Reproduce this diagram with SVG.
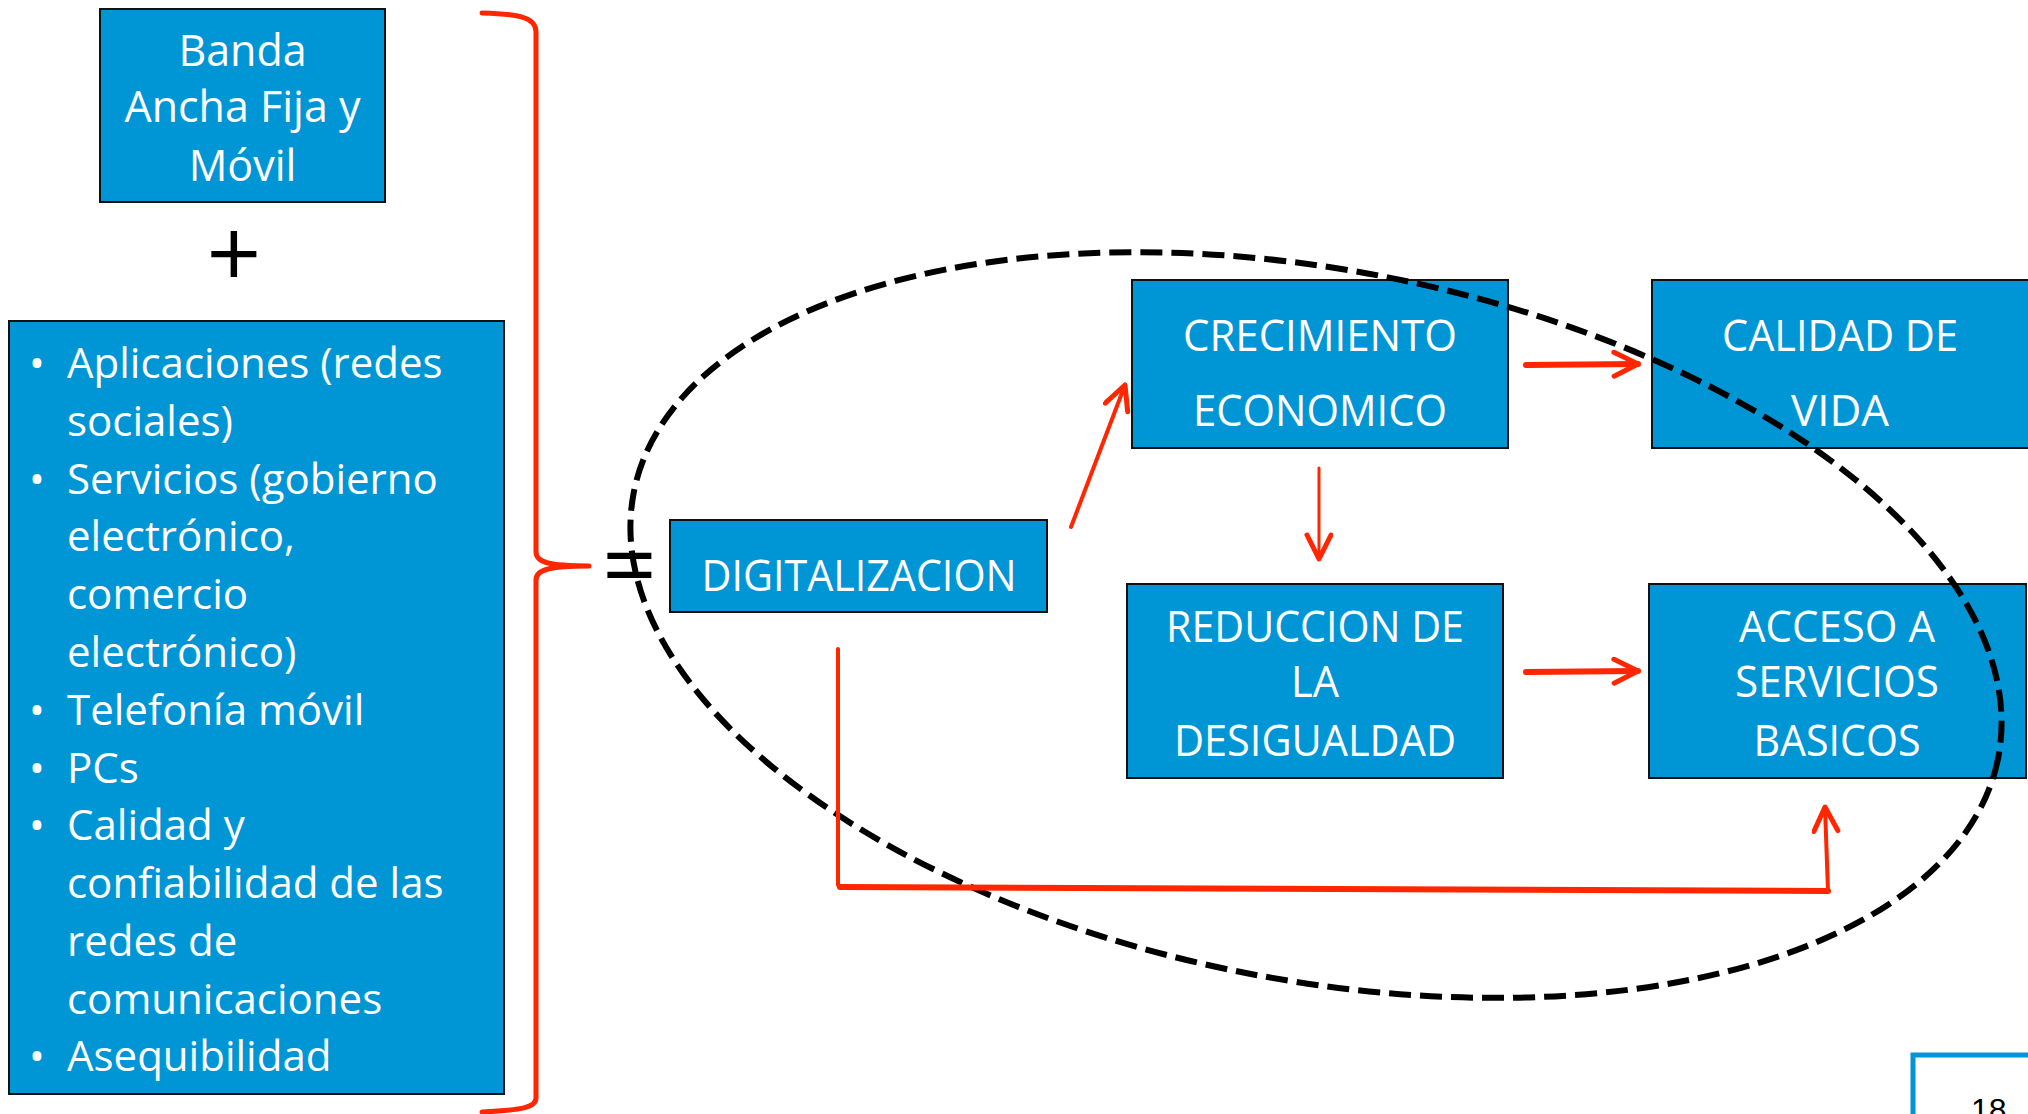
<svg xmlns="http://www.w3.org/2000/svg" width="2028" height="1114" viewBox="0 0 2028 1114">
  <style>
    .box { fill: #0096D6; stroke: #111; stroke-width: 2; }
    .lbl { font-family: "Open Sans", "Noto Sans", sans-serif; font-size: 43px; fill: #fff; }
    .lst { font-size: 42px; }
    .mid { text-anchor: middle; }
    .sym { font-family: "Open Sans", "Noto Sans", sans-serif; fill: #000; }
    .red { fill: none; stroke: #FF2600; stroke-linecap: round; stroke-linejoin: round; }
  </style>
  <defs>
    <marker id="ah" markerUnits="userSpaceOnUse" markerWidth="40" markerHeight="40" refX="27" refY="14" orient="auto">
      <path d="M3,2 L27,14 L3,26" fill="none" stroke="#FF2600" stroke-width="5" stroke-linecap="round" stroke-linejoin="round"/>
    </marker>
  </defs>
  <rect width="2028" height="1114" fill="#fff"/>

  <!-- left column: broadband + services -->
  <g id="banda">
    <rect class="box" x="100" y="9" width="285" height="193"/>
    <text class="lbl mid" x="242.5" y="66">Banda</text>
    <text class="lbl mid" x="242.5" y="122">Ancha Fija y</text>
    <text class="lbl mid" x="242.5" y="181">Móvil</text>
  </g>
  <text class="sym" x="234" y="288" font-size="96" text-anchor="middle">+</text>
  <g id="servicios">
    <rect class="box" x="9" y="321" width="495" height="773"/>
    <g class="lbl lst">
      <text x="37" y="378" text-anchor="middle">•</text>
      <text x="67" y="378">Aplicaciones (redes</text>
      <text x="67" y="436">sociales)</text>
      <text x="37" y="494" text-anchor="middle">•</text>
      <text x="67" y="494">Servicios (gobierno</text>
      <text x="67" y="551">electrónico,</text>
      <text x="67" y="609">comercio</text>
      <text x="67" y="667">electrónico)</text>
      <text x="37" y="725" text-anchor="middle">•</text>
      <text x="67" y="725">Telefonía móvil</text>
      <text x="37" y="783" text-anchor="middle">•</text>
      <text x="67" y="783">PCs</text>
      <text x="37" y="840" text-anchor="middle">•</text>
      <text x="67" y="840">Calidad y</text>
      <text x="67" y="898">confiabilidad de las</text>
      <text x="67" y="956">redes de</text>
      <text x="67" y="1014">comunicaciones</text>
      <text x="37" y="1071" text-anchor="middle">•</text>
      <text x="67" y="1071">Asequibilidad</text>
    </g>
  </g>

  <!-- curly brace and equals sign -->
  <path class="red" stroke-width="5" d="M482,13 C524,14 536,19 536,32 L536,552 C536,562 548,566 589,566 C548,566 536,570 536,580 L536,1098 C536,1107 524,1110 482,1112"/>

  <!-- result nodes -->
  <g id="digitalizacion">
    <rect class="box" x="670" y="520" width="377" height="92"/>
    <text class="lbl mid" x="859" y="591" textLength="315" lengthAdjust="spacingAndGlyphs">DIGITALIZACION</text>
  </g>
  <g id="crecimiento">
    <rect class="box" x="1132" y="280" width="376" height="168"/>
    <text class="lbl mid" x="1320" y="351" textLength="274" lengthAdjust="spacingAndGlyphs">CRECIMIENTO</text>
    <text class="lbl mid" x="1320" y="426" textLength="254" lengthAdjust="spacingAndGlyphs">ECONOMICO</text>
  </g>
  <g id="calidad">
    <rect class="box" x="1652" y="280" width="380" height="168"/>
    <text class="lbl mid" x="1840" y="351" textLength="236" lengthAdjust="spacingAndGlyphs">CALIDAD DE</text>
    <text class="lbl mid" x="1840" y="426" textLength="98" lengthAdjust="spacingAndGlyphs">VIDA</text>
  </g>
  <g id="reduccion">
    <rect class="box" x="1127" y="584" width="376" height="194"/>
    <text class="lbl mid" x="1315" y="642" textLength="298" lengthAdjust="spacingAndGlyphs">REDUCCION DE</text>
    <text class="lbl mid" x="1315" y="697" textLength="48" lengthAdjust="spacingAndGlyphs">LA</text>
    <text class="lbl mid" x="1315" y="756" textLength="282" lengthAdjust="spacingAndGlyphs">DESIGUALDAD</text>
  </g>
  <g id="acceso">
    <rect class="box" x="1649" y="584" width="377" height="194"/>
    <text class="lbl mid" x="1837" y="642" textLength="196" lengthAdjust="spacingAndGlyphs">ACCESO A</text>
    <text class="lbl mid" x="1837" y="697" textLength="204" lengthAdjust="spacingAndGlyphs">SERVICIOS</text>
    <text class="lbl mid" x="1837" y="756" textLength="167" lengthAdjust="spacingAndGlyphs">BASICOS</text>
  </g>

  <!-- dashed grouping ellipse -->
  <ellipse cx="1316" cy="625" rx="695" ry="355" transform="rotate(11 1316 625)" fill="none" stroke="#000" stroke-width="6" stroke-dasharray="22 9"/>

  <text class="sym" x="602" y="599" font-size="96">=</text>

  <!-- connectors -->
  <g id="connectors">
    <line class="red" stroke-width="4" x1="1071" y1="527" x2="1125" y2="385" marker-end="url(#ah)"/>
    <line class="red" stroke-width="6" x1="1526" y1="365" x2="1638" y2="364" marker-end="url(#ah)"/>
    <line class="red" stroke-width="3" x1="1319" y1="468" x2="1319" y2="559" marker-end="url(#ah)"/>
    <line class="red" stroke-width="6" x1="1526" y1="672" x2="1638" y2="671" marker-end="url(#ah)"/>
    <line class="red" stroke-width="4" x1="838" y1="649" x2="838" y2="885"/>
    <line class="red" stroke-width="6" x1="840" y1="887" x2="1828" y2="891"/>
    <line class="red" stroke-width="4" x1="1828" y1="891" x2="1825" y2="807" marker-end="url(#ah)"/>
  </g>

  <!-- page number tab -->
  <g id="pagina">
    <path d="M1913,1118 L1913,1055 L2032,1055" fill="none" stroke="#0096D6" stroke-width="5"/>
    <text x="1971" y="1121" font-family="Liberation Sans, Arial, sans-serif" font-size="32" fill="#000">18</text>
  </g>
</svg>
